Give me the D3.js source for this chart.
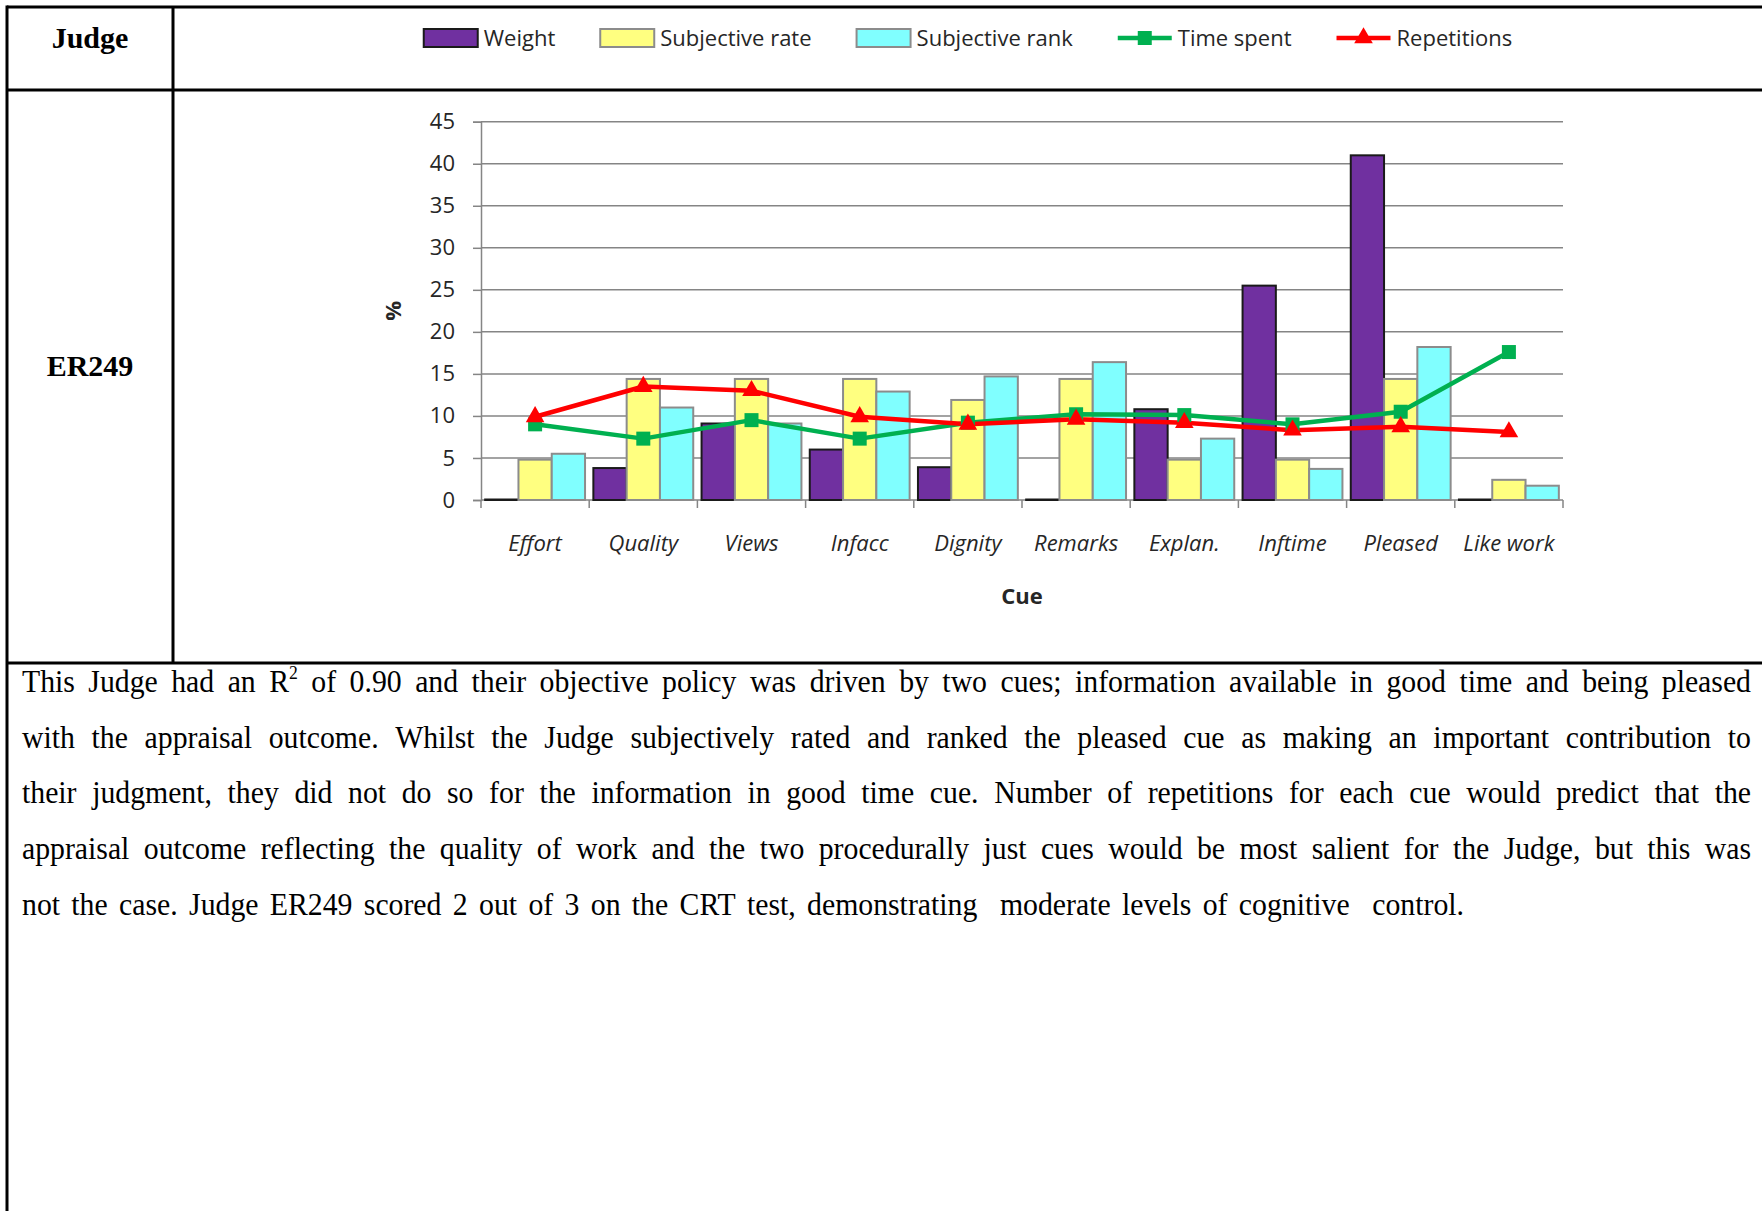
<!DOCTYPE html>
<html lang="en">
<head>
<meta charset="UTF-8">
<title>Judge ER249 - cue weights</title>
<script src="https://d3js.org/d3.v7.min.js"></script>
<style>
    body {
        margin: 0;
        padding: 0;
        background: #ffffff;
    }

    svg {
        display: block;
    }

    .chart-text {
        font-family: 'Open Sans', sans-serif;
        font-size: 22px;
        fill: #262626;
    }

    .cue-label {
        font-style: italic;
        text-anchor: middle;
    }

    .axis-title {
        font-weight: bold;
        text-anchor: middle;
    }

    .cell-title {
        font-family: 'Liberation Serif', 'Times New Roman', serif;
        font-size: 30px;
        font-weight: bold;
        text-anchor: middle;
        fill: #000;
    }

    .para-text {
        font-family: 'Liberation Serif', 'Times New Roman', serif;
        font-size: 32px;
        fill: #000;
    }
</style>
</head>
<body>
<svg width="1762" height="1211"></svg>

<script>
// ---- data ----
const cues = ["Effort", "Quality", "Views", "Infacc", "Dignity", "Remarks", "Explan.", "Inftime", "Pleased", "Like work"];
const weight = [0, 3.8, 9.1, 6.0, 3.9, 0, 10.8, 25.5, 41.0, 0];
const subjectiveRate = [4.8, 14.4, 14.4, 14.4, 11.9, 14.4, 4.8, 4.8, 14.4, 2.4];
const subjectiveRank = [5.5, 11.0, 9.1, 12.9, 14.7, 16.4, 7.3, 3.7, 18.2, 1.7];
const timeSpent = [9.0, 7.3, 9.5, 7.3, 9.2, 10.2, 10.1, 9.0, 10.5, 17.6];
const repetitions = [9.9, 13.5, 13.0, 9.9, 9.0, 9.6, 9.2, 8.3, 8.7, 8.1];
const yTicks = [0, 5, 10, 15, 20, 25, 30, 35, 40, 45];
const barSeries = ["Weight", "Subjective rate", "Subjective rank"];
const lineSeries = ["Time spent", "Repetitions"];

const paragraph = [
    "This Judge had an R^2 of 0.90 and their objective policy was driven by two cues; information available in good time and being pleased",
    "with the appraisal outcome. Whilst the Judge subjectively rated and ranked the pleased cue as making an important contribution to",
    "their judgment, they did not do so for the information in good time cue. Number of repetitions for each cue would predict that the",
    "appraisal outcome reflecting the quality of work and the two procedurally just cues would be most salient for the Judge, but this was",
    "not the case. Judge ER249 scored 2 out of 3 on the CRT test, demonstrating  moderate levels of cognitive  control."
];

const svg = d3.select("svg");

// ---- table frame ----
const frame = svg.append("g")
    .attr("stroke", "#000")
    .attr("stroke-width", 3);
frame.append("line").attr("x1", 7).attr("y1", 7).attr("x2", 1762).attr("y2", 7);
frame.append("line").attr("x1", 7).attr("y1", 5.5).attr("x2", 7).attr("y2", 1211);
frame.append("line").attr("x1", 173).attr("y1", 7).attr("x2", 173).attr("y2", 663);
frame.append("line").attr("x1", 7).attr("y1", 90).attr("x2", 1762).attr("y2", 90);
frame.append("line").attr("x1", 7).attr("y1", 663).attr("x2", 1762).attr("y2", 663);

svg.append("text").attr("class", "cell-title").attr("x", 90).attr("y", 48).text("Judge");
svg.append("text").attr("class", "cell-title").attr("x", 90).attr("y", 376).text("ER249");

// ---- scales ----
const x = d3.scaleBand()
    .domain(cues)
    .range([481, 1563]);

const xSub = d3.scaleBand()
    .domain(barSeries)
    .range([0, x.bandwidth()])
    .paddingOuter(0.125);

const y = d3.scaleLinear()
    .domain([0, 45])
    .range([500, 121.7]);

const barFill = { "Weight": "#7030a0", "Subjective rate": "#ffff80", "Subjective rank": "#80ffff" };
const barStroke = { "Weight": "#1a1a1a", "Subjective rate": "#8c8c8c", "Subjective rank": "#8c8c8c" };
const lineColor = { "Time spent": "#00b050", "Repetitions": "#ff0000" };

const plot = svg.append("g");

// gridlines
plot.selectAll(".grid")
    .data(yTicks)
    .enter()
    .append("line")
    .attr("class", "grid")
    .attr("x1", x.range()[0])
    .attr("x2", x.range()[1])
    .attr("y1", d => y(d))
    .attr("y2", d => y(d))
    .attr("stroke", "#858585")
    .attr("stroke-width", 1.5);

// y axis
const yAxis = plot.append("g")
    .attr("transform", `translate(${x.range()[0]},0)`)
    .call(d3.axisLeft(y).tickValues(yTicks).tickSize(8).tickPadding(18));
yAxis.select(".domain").attr("stroke", "#858585").attr("stroke-width", 1.5);
yAxis.selectAll(".tick line").attr("stroke", "#858585").attr("stroke-width", 1.5);
yAxis.selectAll(".tick text")
    .attr("class", "chart-text")
    .style("font-size", "22px")
    .attr("fill", "#262626");

// category boundary ticks
const boundaries = d3.range(cues.length + 1).map(i => x.range()[0] + i * x.step());
plot.selectAll(".xtick")
    .data(boundaries)
    .enter()
    .append("line")
    .attr("class", "xtick")
    .attr("x1", d => d)
    .attr("x2", d => d)
    .attr("y1", y(0))
    .attr("y2", y(0) + 8)
    .attr("stroke", "#858585")
    .attr("stroke-width", 1.5);

// category labels
plot.selectAll(".cue-label")
    .data(cues)
    .enter()
    .append("text")
    .attr("class", "chart-text cue-label")
    .attr("x", d => x(d) + x.bandwidth() / 2)
    .attr("y", 551)
    .text(d => d);

// axis titles
plot.append("text")
    .attr("class", "chart-text axis-title")
    .attr("x", (x.range()[0] + x.range()[1]) / 2)
    .attr("y", 604)
    .text("Cue");

plot.append("text")
    .attr("class", "chart-text axis-title")
    .attr("transform", `translate(401,${(y(0) + y(45)) / 2}) rotate(-90)`)
    .text("%");

// bars
const barData = cues.flatMap((c, i) => [
    { cue: c, key: "Weight", value: weight[i] },
    { cue: c, key: "Subjective rate", value: subjectiveRate[i] },
    { cue: c, key: "Subjective rank", value: subjectiveRank[i] }
]);

plot.selectAll(".bar")
    .data(barData)
    .enter()
    .append("rect")
    .attr("class", "bar")
    .attr("x", d => x(d.cue) + xSub(d.key))
    .attr("y", d => y(d.value) - (d.value === 0 ? 0.5 : 0))
    .attr("width", xSub.bandwidth())
    .attr("height", d => Math.max(y(0) - y(d.value), 0.5))
    .attr("fill", d => barFill[d.key])
    .attr("stroke", d => barStroke[d.key])
    .attr("stroke-width", 2);

// lines
const lineData = [
    { key: "Time spent", values: timeSpent },
    { key: "Repetitions", values: repetitions }
];

const cx = (c) => x(c) + x.bandwidth() / 2;
const line = d3.line()
    .x((d, i) => cx(cues[i]))
    .y(d => y(d));

plot.selectAll(".series-line")
    .data(lineData)
    .enter()
    .append("path")
    .attr("class", "series-line")
    .attr("d", d => line(d.values))
    .attr("fill", "none")
    .attr("stroke", d => lineColor[d.key])
    .attr("stroke-width", 4.5)
    .attr("stroke-linejoin", "round");

const sq = 14;
plot.selectAll(".marker-square")
    .data(timeSpent)
    .enter()
    .append("rect")
    .attr("class", "marker-square")
    .attr("x", (d, i) => cx(cues[i]) - sq / 2)
    .attr("y", d => y(d) - sq / 2)
    .attr("width", sq)
    .attr("height", sq)
    .attr("fill", lineColor["Time spent"]);

const tri = d3.symbol().type(d3.symbolTriangle).size(150);
plot.selectAll(".marker-tri")
    .data(repetitions)
    .enter()
    .append("path")
    .attr("class", "marker-tri")
    .attr("transform", (d, i) => `translate(${cx(cues[i])},${y(d)})`)
    .attr("d", tri)
    .attr("fill", lineColor["Repetitions"]);

// ---- legend ----
const legendItems = barSeries.map(k => ({ key: k, kind: "bar" }))
    .concat(lineSeries.map(k => ({ key: k, kind: "line" })));

const legend = svg.append("g");
const legendY = 38;
let lx = 0;
legendItems.forEach(item => {
    const g = legend.append("g").attr("transform", `translate(${lx},0)`);
    if (item.kind === "bar") {
        g.append("rect")
            .attr("x", 0).attr("y", legendY - 9)
            .attr("width", 54).attr("height", 18)
            .attr("fill", barFill[item.key])
            .attr("stroke", barStroke[item.key])
            .attr("stroke-width", 2);
    } else {
        g.append("line")
            .attr("x1", 0).attr("x2", 54)
            .attr("y1", legendY).attr("y2", legendY)
            .attr("stroke", lineColor[item.key])
            .attr("stroke-width", 4.5);
        if (item.key === "Time spent") {
            g.append("rect")
                .attr("x", 27 - sq / 2).attr("y", legendY - sq / 2)
                .attr("width", sq).attr("height", sq)
                .attr("fill", lineColor[item.key]);
        } else {
            g.append("path")
                .attr("transform", `translate(27,${legendY})`)
                .attr("d", tri)
                .attr("fill", lineColor[item.key]);
        }
    }
    const t = g.append("text")
        .attr("class", "chart-text")
        .attr("x", 60)
        .attr("y", legendY + 8)
        .text(item.key);
    lx += 60 + t.node().getComputedTextLength() + 45;
});
const legendWidth = lx - 45;
legend.attr("transform", `translate(${968 - legendWidth / 2},0)`);

// ---- justified paragraph ----
// source glyphs run a little narrower than Liberation Serif
const paraLeft = 22, paraRight = 1751, paraTop = 692, lineGap = 55.7;
const squeeze = 0.93;
const lastLineWidth = 1442;

function fillWord(sel, w) {
    if (w.includes("^")) {
        const parts = w.split("^");
        sel.text(parts[0]);
        sel.append("tspan").attr("dy", -13).style("font-size", "19px").text(parts[1]);
    } else {
        sel.text(w);
    }
}

const para = svg.append("g");
paragraph.forEach((lineText, li) => {
    const g = para.append("g")
        .attr("transform", `translate(${paraLeft},${paraTop + li * lineGap}) scale(${squeeze},1)`);
    // a double space in the source counts as two gap units
    const tokens = lineText.split(" ");
    const words = [];
    const gapUnits = [];
    tokens.forEach(tk => {
        if (tk === "") {
            gapUnits[gapUnits.length - 1] += 1;
        } else {
            words.push(tk);
            gapUnits.push(1);
        }
    });
    gapUnits.pop();
    const texts = g.selectAll("text")
        .data(words)
        .enter()
        .append("text")
        .attr("class", "para-text")
        .each(function(d) { fillWord(d3.select(this), d); });
    const widths = texts.nodes().map(n => n.getComputedTextLength());
    const last = li === paragraph.length - 1;
    const span = (last ? lastLineWidth : paraRight - paraLeft) / squeeze;
    const unit = (span - d3.sum(widths)) / d3.sum(gapUnits);
    let pos = 0;
    texts.attr("x", (d, i) => {
        const v = pos;
        pos += widths[i] + (i < gapUnits.length ? gapUnits[i] * unit : 0);
        return v;
    });
});
</script>
</body>
</html>
